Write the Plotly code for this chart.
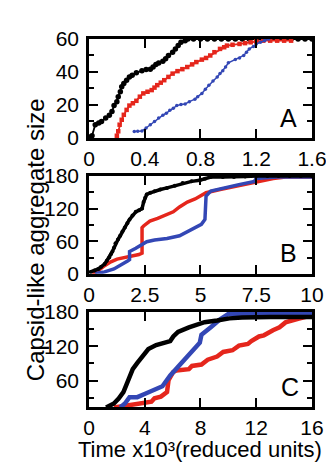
import plotly.graph_objects as go

# ---------- Panel A data (time x10^3, size) ----------
a_black_t = [0.01, 0.022, 0.045, 0.07, 0.09, 0.12, 0.146, 0.165, 0.18, 0.2, 0.21, 0.225, 0.235, 0.25, 0.27, 0.29, 0.31, 0.34, 0.38, 0.41, 0.44, 0.46, 0.48, 0.5, 0.53, 0.55, 0.57, 0.6, 0.62, 0.64, 0.66, 0.69, 0.71,
             0.75, 0.8, 0.85, 0.9, 0.95, 1.0, 1.05, 1.1, 1.15, 1.2, 1.25, 1.3, 1.35, 1.4, 1.45, 1.5, 1.55, 1.6]
a_black_v = [0.5, 1.3, 8, 9, 10, 12, 13.8, 16, 19.6, 22, 25, 28, 31, 33, 35, 37, 38, 39.5, 40.8, 41.5, 41.7, 43, 44.6, 45.5, 46.5, 48, 50, 52, 54, 56, 58, 59, 60,
             60, 60, 60, 60, 60, 60, 60, 60, 60, 60, 60, 60, 60, 60, 60, 60, 60, 60]

a_red_t = [0.20, 0.21, 0.22, 0.235, 0.25, 0.27, 0.29, 0.315, 0.34, 0.365, 0.39, 0.42, 0.45, 0.47, 0.49, 0.515, 0.54, 0.57, 0.60, 0.635, 0.67, 0.705, 0.74, 0.77, 0.81, 0.84, 0.87, 0.9, 0.94, 0.97, 0.99, 1.03, 1.08, 1.12, 1.16, 1.2, 1.25, 1.3, 1.35, 1.4, 1.45]
a_red_v = [1.3, 4, 8, 11, 14, 17, 19.6, 21, 22.5, 25, 27, 28, 29, 30.5, 32, 33.5, 35, 37, 39, 40.5, 41.7, 43, 44.6, 46, 47.5, 48.5, 50, 52, 54, 55, 56, 56.5, 57, 57.5, 58, 58.5, 59, 59, 59, 59, 59]

a_blue_t = [0.325, 0.35, 0.38, 0.41, 0.44, 0.47, 0.5, 0.53, 0.555, 0.58, 0.605, 0.63, 0.66, 0.69, 0.72, 0.76, 0.78, 0.81, 0.835, 0.86, 0.89, 0.92, 0.94, 0.96, 0.98, 1.0, 1.05, 1.08, 1.11, 1.13, 1.15, 1.18, 1.2, 1.23, 1.26, 1.29]
a_blue_v = [3.9, 4, 4.2, 6, 8, 10, 12, 13.8, 15, 16.7, 18, 19.6, 20.2, 20.6, 22, 23.5, 25, 27, 29.5, 32, 34.5, 37, 39, 40.8, 43, 45.6, 47.5, 48.5, 50, 52, 54, 55.5, 57, 58, 59, 60]

# ---------- Panel B data ----------
b_black_t = [0.07, 0.25, 0.42, 0.55, 0.7, 0.8, 0.91, 0.98, 1.05, 1.12, 1.19, 1.3, 1.4, 1.5, 1.61, 1.72, 1.82, 1.95, 2.1, 2.25, 2.38, 2.45, 2.52, 2.59, 2.75, 2.94, 3.2, 3.5, 3.85, 4.2, 4.6, 4.97, 5.2, 5.46, 6.0, 6.5, 7.0, 7.5, 8.0, 8.5, 9.0, 9.5, 10.0]
b_black_v = [3.5, 6, 9, 13, 18, 24, 30, 36, 41, 48, 56, 63, 70, 78, 85, 93, 100, 107, 114, 117, 120, 132, 140, 146, 149, 152, 155, 158, 162, 167, 170, 172, 175, 178, 178, 178, 179, 180, 180, 180, 180, 180, 180]

b_red_t = [0.14, 0.42, 0.7, 0.98, 1.26, 1.68, 1.96, 2.24, 2.38, 2.38, 2.45, 2.73, 3.08, 3.43, 3.78, 4.06, 4.41, 4.76, 4.97, 5.25, 5.88, 6.58, 7.28, 7.56, 8.26, 8.82, 9.4, 10.0]
b_red_v = [0.5, 6, 15, 22, 27, 30, 33, 35.5, 38, 85, 88, 97, 102, 108, 114, 123, 132, 137.6, 143, 149, 155, 161, 167, 170, 175, 178, 178, 178]

b_blue_t = [0.28, 0.7, 1.12, 1.54, 1.75, 1.82, 1.82, 2.1, 2.38, 2.59, 2.94, 3.5, 4.06, 4.48, 4.76, 5.04, 5.2, 5.25, 5.46, 6.02, 6.72, 7.42, 7.49, 8.4, 9.2, 10.0]
b_blue_v = [0.5, 3.5, 9, 18, 24, 26, 41, 47, 53, 59, 62, 65, 70, 79, 85, 91, 100, 143, 152, 158, 164, 170, 175, 178, 178, 178]

# ---------- Panel C data ----------
c_black_t = [1.23, 1.79, 2.13, 2.47, 2.69, 2.91, 3.14, 3.47, 3.81, 4.26, 4.82, 5.38, 5.83, 6.05, 6.39, 7.17, 7.95, 8.29, 9.19, 10.08, 10.98, 12.0, 13.0, 14.0, 15.0, 16.0]
c_black_v = [13, 20, 28.7, 40, 53, 64, 80, 91, 102, 115, 122, 126, 129, 137, 145, 153, 160, 162, 165, 168.6, 170, 171, 171, 171, 171, 171]

c_red_t = [1.8, 2.47, 3.14, 3.81, 4.48, 4.7, 5.16, 5.6, 5.71, 6.05, 6.27, 7.17, 7.39, 8.07, 8.52, 9.19, 9.63, 10.3, 10.76, 11.4, 11.65, 12.2, 12.55, 13.2, 13.67, 14.1, 14.8, 15.0, 16.0]
c_red_v = [13, 15, 17.8, 20, 23, 29, 32, 40, 61, 75, 77.5, 80, 85.6, 88, 96.5, 102, 110, 113, 121, 124, 129, 137, 139, 148, 153, 161.6, 167, 168, 174]

c_blue_t = [2.24, 2.58, 2.91, 3.47, 4.03, 4.7, 5.27, 5.83, 6.5, 7.17, 7.95, 8.07, 8.74, 9.41, 9.97, 11.0, 12.0, 13.0, 14.0, 15.0, 16.0]
c_blue_v = [13, 20, 31, 31, 37, 45, 50, 69, 85.6, 105, 126, 140, 153, 167, 176, 177, 177, 177, 177, 177, 177]

BLACK = "#000000"
RED = "#e5261c"
BLUE = "#3347b5"
FONT = "Liberation Sans, Arial, Helvetica, sans-serif"

W, H = 334, 466
x0, x1 = 80 / W, 318 / W
panels = [
    (20, 124),
    (164, 267),
    (307, 407),
]

fig = go.Figure()

def add(t, v, color, k, width, msize, symbol="circle"):
    fig.add_trace(go.Scatter(
        x=t, y=v, mode="lines+markers" if msize > 0 else "lines",
        line=dict(color=color, width=width),
        marker=dict(color=color, size=msize, symbol=symbol),
        xaxis="x" if k == 1 else f"x{k}", yaxis="y" if k == 1 else f"y{k}",
        showlegend=False, hoverinfo="skip"))

# Panel A
add(a_black_t, a_black_v, BLACK, 1, 1.8, 5.5)
add(a_red_t, a_red_v, RED, 1, 1.8, 4.5, "square")
add(a_blue_t, a_blue_v, BLUE, 1, 1.5, 3.5)
# Panel B
add(b_red_t, b_red_v, RED, 2, 3.5, 0)
add(b_blue_t, b_blue_v, BLUE, 2, 3.5, 0)
add(b_black_t, b_black_v, BLACK, 2, 3.5, 4)
# Panel C
add(c_red_t, c_red_v, RED, 3, 4.5, 0)
add(c_blue_t, c_blue_v, BLUE, 3, 4.5, 0)
add(c_black_t, c_black_v, BLACK, 3, 4.5, 0)

xranges = [[0, 1.6], [0, 10], [0, 16]]
xticks = [[0, 0.4, 0.8, 1.2, 1.6], [0, 2.5, 5, 7.5, 10], [0, 4, 8, 12, 16]]
xticktext = [["0", "0.4", "0.8", "1.2", "1.6"], ["0", "2.5", "5", "7.5", "10"], ["0", "4", "8", "12", "16"]]
yranges = [[0, 60], [0, 180], [14, 180]]
yticks = [[0, 20, 40, 60], [0, 60, 120, 180], [60, 120, 180]]
yminor = [10, 30, 30]

axis_common = dict(showline=True, linecolor="black", linewidth=2.5, mirror="allticks",
                   ticks="inside", ticklen=9, tickwidth=2, tickcolor="black",
                   showgrid=False, zeroline=False,
                   tickfont=dict(family=FONT, size=21, color="black"))

layout = {}
for i, (top, bot) in enumerate(panels):
    k = i + 1
    xname = "xaxis" if k == 1 else f"xaxis{k}"
    yname = "yaxis" if k == 1 else f"yaxis{k}"
    ya = "y" if k == 1 else f"y{k}"
    xa = "x" if k == 1 else f"x{k}"
    layout[xname] = dict(axis_common, domain=[x0, x1], range=xranges[i], anchor=ya,
                         tickmode="array", tickvals=xticks[i], ticktext=xticktext[i],
                         ticklabelstandoff=0)
    layout[yname] = dict(axis_common, domain=[1 - bot / H, 1 - top / H], range=yranges[i], anchor=xa,
                         tickmode="array", tickvals=yticks[i], ticklabelstandoff=3,
                         minor=dict(dtick=yminor[i], tick0=0, ticks="inside", ticklen=5,
                                    tickwidth=2, tickcolor="black", showgrid=False))

labels = [("A", 293, 103), ("B", 293, 245), ("C", 295, 386)]
annotations = []
for txt, px, py in labels:
    annotations.append(dict(text=txt, x=px / W, y=1 - py / H, xref="paper", yref="paper",
                            xanchor="center", yanchor="middle", showarrow=False,
                            font=dict(family=FONT, size=25, color="black")))
annotations.append(dict(text="Capsid-like aggregate size", x=23 / W, y=1 - 231 / H,
                        xref="paper", yref="paper", textangle=-90, xanchor="center", yanchor="middle",
                        showarrow=False, font=dict(family=FONT, size=24, color="black")))
annotations.append(dict(text="Time x10³(reduced units)", x=199 / W, y=0,
                        xref="paper", yref="paper", xanchor="center", yanchor="bottom",
                        borderpad=0, showarrow=False, font=dict(family=FONT, size=22, color="black")))

fig.update_layout(width=W, height=H, margin=dict(l=0, r=0, t=0, b=0),
                  paper_bgcolor="white", plot_bgcolor="white",
                  annotations=annotations, **layout)

fig.write_html("out.html", config={"displayModeBar": False})
